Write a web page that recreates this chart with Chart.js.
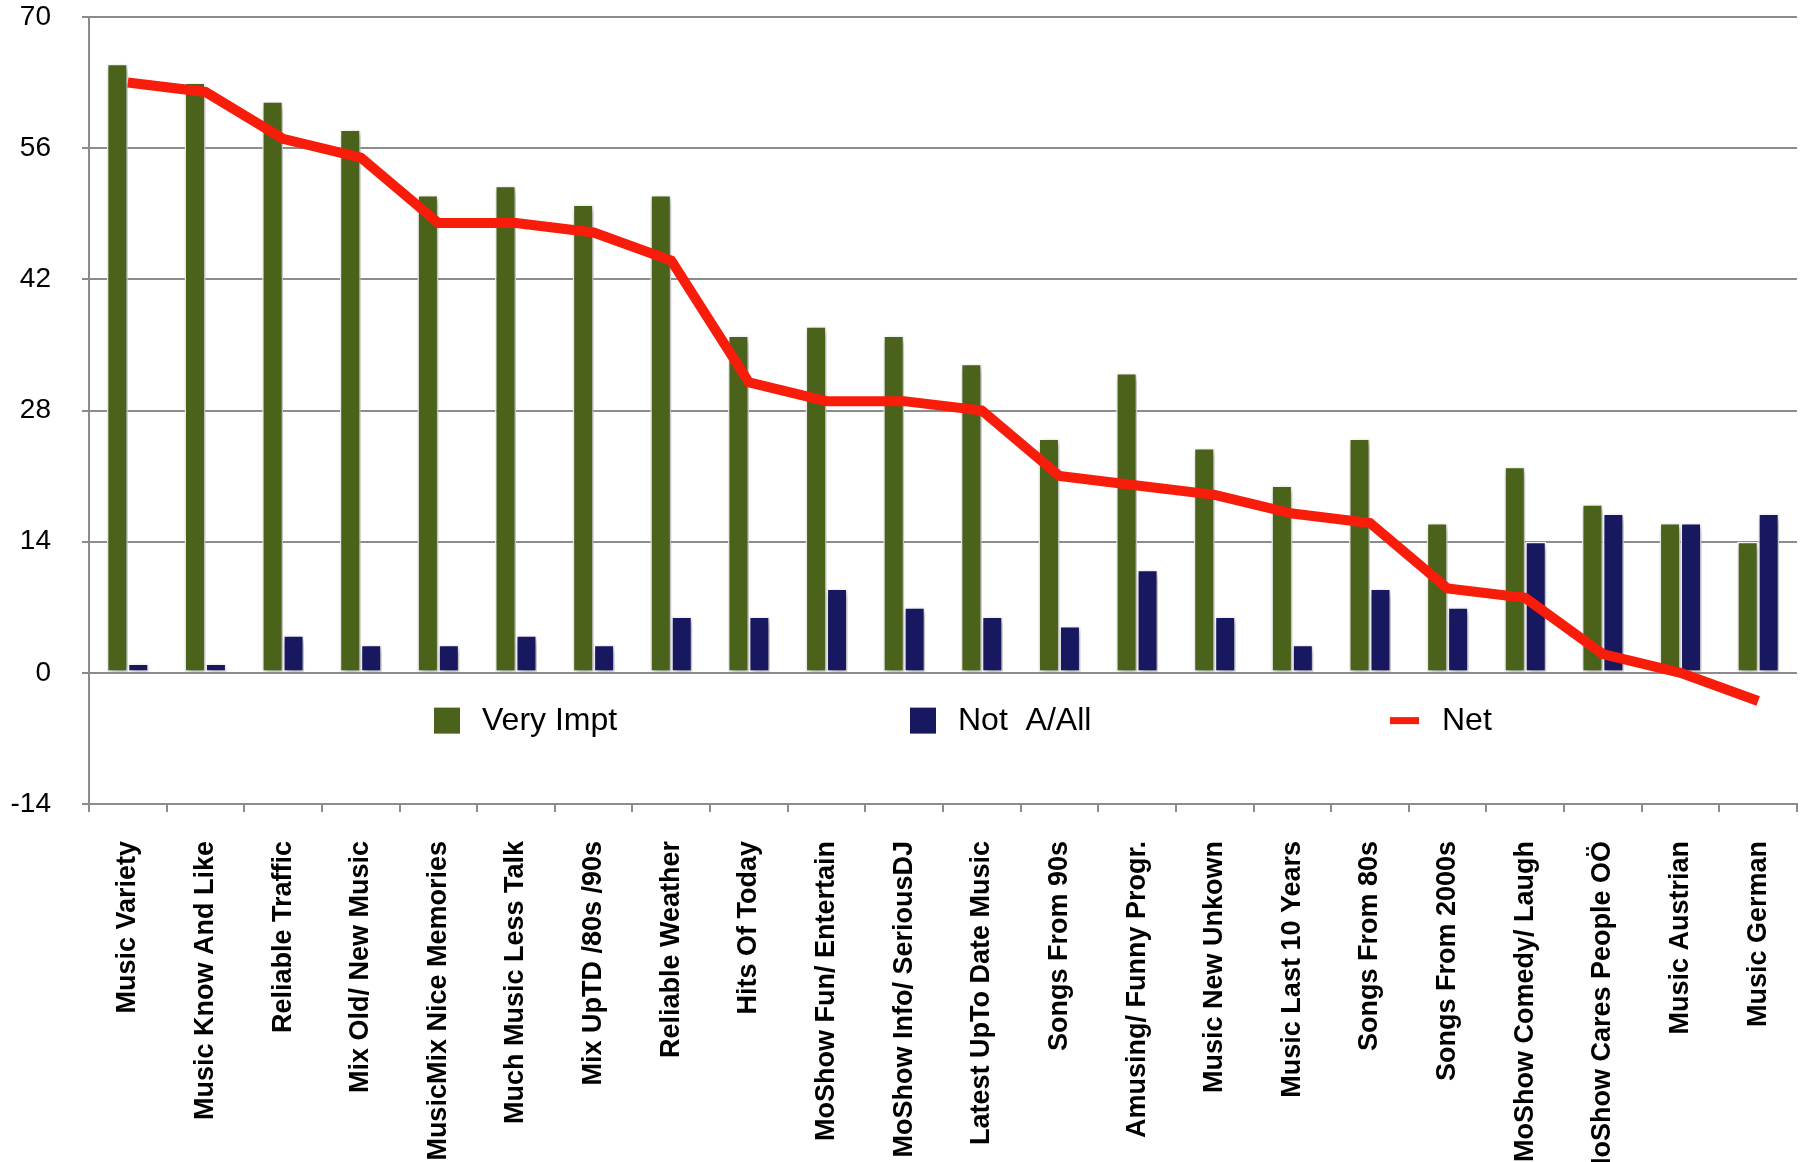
<!DOCTYPE html>
<html>
<head>
<meta charset="utf-8">
<title>Music Importance – Very Impt vs Not A/All</title>
<script src="https://cdn.jsdelivr.net/npm/chart.js@4.4.1/dist/chart.umd.min.js"></script>
<style>
  html, body { margin: 0; padding: 0; background: #ffffff; }
  #wrap { position: relative; width: 1808px; height: 1162px; }
</style>
</head>
<body>
<div id="wrap"><canvas id="chart" width="1808" height="1162"></canvas></div>
<script>
// Categories along the x axis
const categories = [
  'Music Variety', 'Music Know And Like', 'Reliable Traffic', 'Mix Old/ New Music',
  'MusicMix Nice Memories', 'Much Music Less Talk', 'Mix UpTD /80s /90s', 'Reliable Weather',
  'Hits Of Today', 'MoShow Fun/ Entertain', 'MoShow Info/ SeriousDJ', 'Latest UpTo Date Music',
  'Songs From 90s', 'Amusing/ Funny Progr.', 'Music New Unkown', 'Music Last 10 Years',
  'Songs From 80s', 'Songs From 2000s', 'MoShow Comedy/ Laugh', 'MoShow Cares People OÖ',
  'Music Austrian', 'Music German'
];

// Series values
const veryImpt = [65, 63, 61, 58, 51, 52, 50, 51, 36, 37, 36, 33, 25, 32, 24, 20, 25, 16, 22, 18, 16, 14];
const notAtAll = [1, 1, 4, 3, 3, 4, 3, 6, 6, 9, 7, 6, 5, 11, 6, 3, 9, 7, 14, 17, 16, 17];
const net      = [63, 62, 57, 55, 48, 48, 47, 44, 31, 29, 29, 28, 21, 20, 19, 17, 16, 9, 8, 2, 0, -3];

// Value axis ticks
const yTicks = [-14, 0, 14, 28, 42, 56, 70];

const seriesNames = ['Very Impt', 'Not  A/All', 'Net'];

const GREEN = '#4a6219';
const NAVY = '#181860';
const RED = '#f81d0b';
const GRID = '#8c8c8c';
const FONT = '"Liberation Sans", Arial, Helvetica, sans-serif';

// Soft drop shadow under the bar datasets only
const barShadow = {
  id: 'barShadow',
  beforeDatasetDraw(chart, args) {
    if (args.meta.type !== 'bar') return;
    const ctx = chart.ctx;
    ctx.save();
    ctx.shadowColor = 'rgba(0,0,0,0.38)';
    ctx.shadowBlur = 7;
    ctx.shadowOffsetX = 2;
    ctx.shadowOffsetY = 3;
  },
  afterDatasetDraw(chart, args) {
    if (args.meta.type !== 'bar') return;
    chart.ctx.restore();
  }
};

// Legend row drawn inside the plot, below the zero line
const innerLegend = {
  id: 'innerLegend',
  afterDraw(chart) {
    const ctx = chart.ctx;
    const area = chart.chartArea;
    const y = chart.scales.y.getPixelForValue(-5.1);
    const starts = [area.left + 345, area.left + 821, area.left + 1301];
    ctx.save();
    ctx.font = '32px ' + FONT;
    ctx.textBaseline = 'middle';
    chart.data.datasets.forEach((ds, i) => {
      const x = starts[i];
      let textX;
      if (ds.type === 'line') {
        ctx.fillStyle = ds.borderColor;
        ctx.fillRect(x, y - 3.5, 29, 7);
        textX = x + 52;
      } else {
        ctx.fillStyle = ds.backgroundColor;
        ctx.fillRect(x, y - 13, 26, 26);
        textX = x + 48;
      }
      ctx.fillStyle = '#000';
      ctx.fillText(ds.label, textX, y + 1);
    });
    ctx.restore();
  }
};

const ctx = document.getElementById('chart').getContext('2d');
new Chart(ctx, {
  data: {
    labels: categories,
    datasets: [
      {
        type: 'bar', label: seriesNames[0], data: veryImpt,
        backgroundColor: GREEN, borderColor: '#ffffff', borderWidth: 1.5,
        borderSkipped: false, categoryPercentage: 0.54, barPercentage: 1.0, order: 1
      },
      {
        type: 'bar', label: seriesNames[1], data: notAtAll,
        backgroundColor: NAVY, borderColor: '#ffffff', borderWidth: 1.5,
        borderSkipped: false, categoryPercentage: 0.54, barPercentage: 1.0, order: 1
      },
      {
        type: 'line', label: seriesNames[2], data: net,
        borderColor: RED, backgroundColor: RED, borderWidth: 10,
        pointRadius: 0, tension: 0, borderJoinStyle: 'miter', borderCapStyle: 'butt',
        fill: false, order: 0
      }
    ]
  },
  options: {
    responsive: false,
    animation: false,
    devicePixelRatio: 1,
    layout: { padding: { top: 17, right: 11, left: 0, bottom: 0 } },
    plugins: {
      legend: { display: false },
      tooltip: { enabled: false }
    },
    scales: {
      x: {
        offset: true,
        grid: {
          offset: true, drawOnChartArea: false, drawTicks: true,
          tickLength: 8, color: GRID, lineWidth: 2
        },
        border: { display: true, color: GRID, width: 2 },
        ticks: {
          autoSkip: false, minRotation: 90, maxRotation: 90, padding: 29,
          color: '#000',
          font: { family: FONT, size: 27, weight: 'bold' }
        },
        afterFit(scale) {
          scale.height = 358;
          scale.paddingLeft = 0;
          scale.paddingRight = 0;
        }
      },
      y: {
        min: -14, max: 70,
        afterBuildTicks(scale) { scale.ticks = yTicks.map(v => ({ value: v })); },
        grid: { color: GRID, lineWidth: 2, drawTicks: true, tickLength: 7 },
        border: { display: true, color: GRID, width: 2 },
        ticks: {
          padding: 31, color: '#000',
          font: { family: FONT, size: 28 }
        },
        afterFit(scale) {
          scale.width = 89;
          scale.paddingTop = 0;
          scale.paddingBottom = 0;
        }
      }
    }
  },
  plugins: [barShadow, innerLegend]
});
</script>
</body>
</html>
